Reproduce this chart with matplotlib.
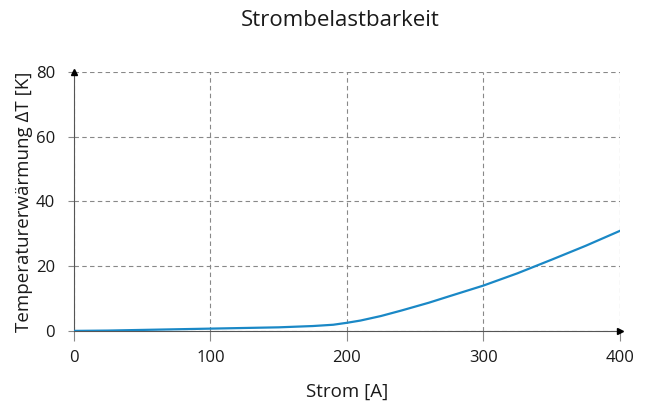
import matplotlib
matplotlib.use("Agg")
import matplotlib.pyplot as plt

plt.rcParams["font.family"] = ["Open Sans", "DejaVu Sans"]

# values
strom = [0, 25, 50, 75, 100, 125, 150, 175, 190, 200, 210, 225, 240, 250, 260, 275,
         300, 325, 350, 375, 400]
delta_t = [0, 0.1, 0.3, 0.5, 0.7, 0.9, 1.1, 1.5, 1.9, 2.5, 3.2, 4.6, 6.3, 7.5, 8.7, 10.7,
           14.0, 17.8, 22.0, 26.3, 30.9]
x_ticks = [0, 100, 200, 300, 400]
y_ticks = [0, 20, 40, 60, 80]

fig = plt.figure(figsize=(6.49, 4.07), dpi=100)
ax = fig.add_axes([0.114, 0.187, 0.841, 0.636])

ax.plot(strom, delta_t, color="#1a88c6", lw=1.6, zorder=3)

ax.set_xlim(0, 400)
ax.set_ylim(0, 80)
ax.set_xticks(x_ticks)
ax.set_yticks(y_ticks)
ax.grid(True, color="#888888", ls=(0, (4, 3)), lw=0.8)
ax.tick_params(labelsize=12, colors="#888888", labelcolor="#1a1a1a", width=0.8)
ax.tick_params(axis="x", length=7, pad=7)
ax.tick_params(axis="y", length=4.5, pad=9)

for side in ["top", "right"]:
    ax.spines[side].set_visible(False)
for side in ["left", "bottom"]:
    ax.spines[side].set_color("#555555")
    ax.spines[side].set_linewidth(0.8)

# axis arrows
ax.plot(0, 1, marker="^", color="black", ms=5, transform=ax.transAxes, clip_on=False, zorder=4)
ax.plot(1, 0, marker=">", color="black", ms=5, transform=ax.transAxes, clip_on=False, zorder=4)

ax.set_xlabel("Strom [A]", fontsize=13.5, color="#1a1a1a", labelpad=12)
ax.set_ylabel("Temperaturerwärmung ΔT [K]", fontsize=13.5, color="#1a1a1a", labelpad=2)
fig.text(0.524, 0.975, "Strombelastbarkeit", fontsize=16, color="#1a1a1a",
         ha="center", va="top")

fig.savefig("out.png", dpi=100)
